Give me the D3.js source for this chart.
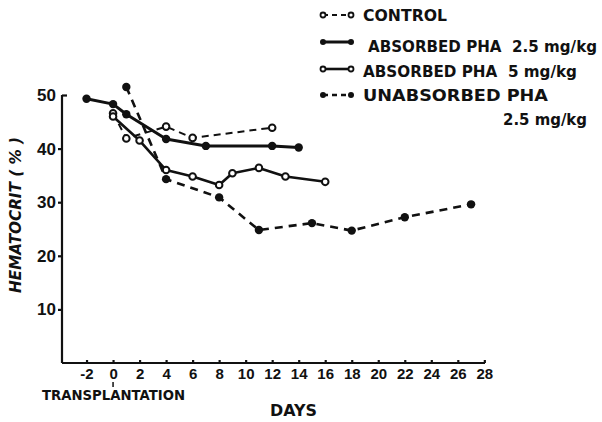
<!DOCTYPE html>
<meta charset="utf-8">
<style>
body { margin: 0; background: #fff; }
svg { font-family: "DejaVu Sans", sans-serif; }
.axis line, .axis path { stroke: #111; stroke-width: 2.2px; }
.tick text { font-size: 15px; fill: #111; font-weight: bold; }
.lbl { font-weight: bold; fill: #111; white-space: pre; }
</style>
<svg width="602" height="422"></svg>
<script src="https://cdn.jsdelivr.net/npm/d3@7"></script>
<script>

// values (day, hematocrit %)
var controlDays = [0, 1, 4, 6, 12];
var controlHct = [46.6, 41.9, 44.1, 42.0, 43.9];

var abs25Days = [-2, 0, 1, 4, 7, 12, 14];
var abs25Hct = [49.3, 48.3, 46.4, 41.8, 40.5, 40.5, 40.2];

var abs5Days = [0, 2, 4, 6, 8, 9, 11, 13, 16];
var abs5Hct = [46.0, 41.5, 36.0, 34.8, 33.2, 35.4, 36.4, 34.8, 33.8];

var unabsDays = [1, 4, 8, 11, 15, 18, 22, 27];
var unabsHct = [51.5, 34.3, 30.9, 24.8, 26.1, 24.7, 27.2, 29.6];

var xTicks = d3.range(-2, 29, 2);
var yTicks = [10, 20, 30, 40, 50];

var series = [
  {name: "CONTROL", days: controlDays, hct: controlHct, dash: "7,5", filled: false, width: 2},
  {name: "ABSORBED PHA  2.5 mg/kg", days: abs25Days, hct: abs25Hct, dash: null, filled: true, width: 3},
  {name: "ABSORBED PHA  5 mg/kg", days: abs5Days, hct: abs5Hct, dash: null, filled: false, width: 2.6},
  {name: "UNABSORBED PHA", days: unabsDays, hct: unabsHct, dash: "8,6", filled: true, width: 2.6}
];

var svg = d3.select("svg");

var x = d3.scaleLinear().domain([-3.85, 28.05]).range([62, 485]);
var y = d3.scaleLinear().domain([0, 50]).range([363, 95]);

// axes
var xAxis = d3.axisBottom(x).tickValues(xTicks).tickSizeInner(-3).tickSizeOuter(0).tickPadding(5)
  .tickFormat(d3.format("d"));
var gx = svg.append("g").attr("class", "axis").attr("transform", "translate(0," + y(0) + ")").call(xAxis);
gx.select(".domain").attr("d", "M" + x.range()[0] + ",0H" + x.range()[1]);
gx.selectAll(".tick text").attr("dy", "0.75em").text(function(d) { return d < 0 ? "-" + Math.abs(d) : d; });

var yAxis = d3.axisLeft(y).tickValues(yTicks).tickSizeInner(4).tickSizeOuter(0).tickPadding(2);
var gy = svg.append("g").attr("class", "axis").attr("transform", "translate(" + x.range()[0] + ",0)").call(yAxis);
gy.select(".domain").attr("d", "M0," + y(50) + "V" + y(0));
gy.selectAll(".tick line").attr("x1", function(d) { return d === 50 ? 5 : 0; })
  .attr("x2", function(d) { return d === 50 ? 0 : -4; });
gy.selectAll(".tick text").style("font-size", "17px");

// transplantation marker under day 0
svg.append("line").attr("x1", x(0)).attr("x2", x(0)).attr("y1", 382).attr("y2", 387)
  .attr("stroke", "#111").attr("stroke-width", 1.5);
svg.append("text").attr("class", "lbl").attr("x", 42).attr("y", 400)
  .attr("textLength", 143).attr("lengthAdjust", "spacingAndGlyphs")
  .style("font-size", "14px").text("TRANSPLANTATION");
svg.append("text").attr("class", "lbl").attr("x", 270).attr("y", 416)
  .attr("textLength", 47).attr("lengthAdjust", "spacingAndGlyphs")
  .style("font-size", "15px").text("DAYS");
svg.append("text").attr("class", "lbl")
  .attr("transform", "translate(21,215) rotate(-90)")
  .attr("text-anchor", "middle").style("font-style", "italic").style("font-size", "15px")
  .attr("textLength", 156).attr("lengthAdjust", "spacingAndGlyphs")
  .text("HEMATOCRIT ( % )");

// data lines
var line = d3.line().x(function(d) { return x(d[0]); }).y(function(d) { return y(d[1]); });

series.forEach(function(s) {
  var pts = s.days.map(function(d, i) { return [d, s.hct[i]]; });
  svg.append("path").datum(pts).attr("d", line)
    .attr("fill", "none").attr("stroke", "#111").attr("stroke-width", s.width)
    .attr("stroke-dasharray", s.dash).attr("stroke-linejoin", "round");
  svg.selectAll(null).data(pts).enter().append("circle")
    .attr("cx", function(d) { return x(d[0]); })
    .attr("cy", function(d) { return y(d[1]); })
    .attr("r", s.filled ? 4.2 : 3.3)
    .attr("fill", s.filled ? "#111" : "#fff")
    .attr("stroke", "#111").attr("stroke-width", s.filled ? 0 : 2);
});

// legend
var legY = [15, 42, 69, 95];
var legText = [
  {t: "CONTROL", x: 363, y: 21, w: 84},
  {t: "ABSORBED PHA  2.5 mg/kg", x: 368, y: 52, w: 229},
  {t: "ABSORBED PHA  5 mg/kg", x: 363, y: 77, w: 214},
  {t: "UNABSORBED PHA", x: 363, y: 101, w: 185}
];
series.forEach(function(s, i) {
  var g = svg.append("g");
  g.append("line").attr("x1", 323).attr("x2", 351).attr("y1", legY[i]).attr("y2", legY[i])
    .attr("stroke", "#111").attr("stroke-width", s.width).attr("stroke-dasharray", s.dash ? "5,4" : null);
  [323, 351].forEach(function(cx) {
    g.append("circle").attr("cx", cx).attr("cy", legY[i]).attr("r", s.filled ? 3 : 2.5)
      .attr("fill", s.filled ? "#111" : "#fff").attr("stroke", "#111").attr("stroke-width", s.filled ? 0 : 1.8);
  });
  g.append("text").attr("class", "lbl").attr("x", legText[i].x).attr("y", legText[i].y)
    .attr("textLength", legText[i].w).attr("lengthAdjust", "spacingAndGlyphs")
    .style("font-size", "15px").text(legText[i].t);
});
svg.append("text").attr("class", "lbl").attr("x", 503).attr("y", 125)
  .attr("textLength", 84).attr("lengthAdjust", "spacingAndGlyphs")
  .style("font-size", "15px").text("2.5 mg/kg");

</script>
